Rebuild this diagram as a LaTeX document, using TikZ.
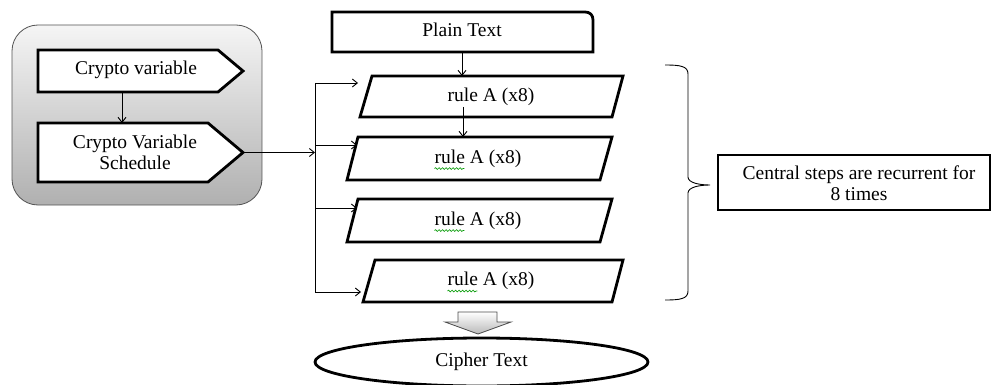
\documentclass[tikz,border=0pt]{standalone}
\usepackage{fontspec}
\setmainfont{Liberation Serif}
\usetikzlibrary{arrows.meta,shapes.geometric,decorations.pathmorphing}
\begin{document}
\begin{tikzpicture}[x=1pt,y=-1pt,
  every node/.style={font=\fontsize{19.5}{21}\selectfont, align=center, inner sep=0pt},
  thickbox/.style={draw=black, line width=2.8pt, fill=white, line join=miter},
  conn/.style={draw=black, line width=0.9pt},
  arr/.style={conn, -{Straight Barb[length=5pt,width=8pt]}},
  wavy/.style={draw=green!60!black, line width=0.6pt, decorate, decoration={snake, amplitude=0.9pt, segment length=3.5pt}},
  greyarrow/.style={draw=gray!60!black, line width=0.8pt, top color=white, bottom color=gray!55}
]
\useasboundingbox (0,0) rectangle (992,385);
\clip (0,0) rectangle (992,385);

% grey container
\path[draw=gray!65!black, line width=0.8pt, top color=gray!8, bottom color=gray!62, rounded corners=26pt]
  (12,25) rectangle (262,205);

% crypto variable shapes
\draw[thickbox] (38,50) -- (218,50) -- (243,71) -- (218,92) -- (38,92) -- cycle;
\node (cv) at (136,70) {Crypto variable};
\draw[thickbox] (38,123) -- (208,123) -- (243,152.5) -- (208,182) -- (38,182) -- cycle;
\node (cvs) at (135,152) {Crypto Variable\\Schedule};
\coordinate (cvB) at (122,92);
\coordinate (cvsT) at (122,123);
\coordinate (cvsTip) at (243,152.5);
\draw[arr] (cvB) -- (cvsT);

% plain text
\draw[thickbox] (332,52) -- (332,12) -- (585,12) .. controls (590,12) and (593,15) .. (593,20) -- (593,52) -- cycle;
\node (pt) at (462,30) {Plain Text};
\coordinate (ptB) at (462,52);

% rule boxes
\draw[thickbox] (372,76) -- (623,76) -- (612,117) -- (360,117) -- cycle;
\node (r1) at (491,96.5) {rule A (x8)};
\draw[thickbox] (358,137) -- (612,137) -- (600,180) -- (347,180) -- cycle;
\node (r2) at (478,158.5) {rule A (x8)};
\draw[thickbox] (358,199) -- (612,199) -- (600,242) -- (347,242) -- cycle;
\node (r3) at (478,220.5) {rule A (x8)};
\draw[thickbox] (375,260) -- (623,260) -- (612,302) -- (363,302) -- cycle;
\node (r4) at (491,281) {rule A (x8)};

\coordinate (r1T) at (462,76);
\coordinate (r1B) at (463,107);
\coordinate (r2T) at (463,137);
\draw[arr] (ptB) -- (r1T);
\draw[arr] (r1B) -- (r2T);

% spell-check squiggles
\draw[wavy] ([yshift=-1pt]r2.south west) -- ++(30,0);
\draw[wavy] ([yshift=-1pt]r3.south west) -- ++(30,0);
\draw[wavy] ([yshift=-1pt]r4.south west) -- ++(30,0);

% bus
\coordinate (b1) at (315,83);
\coordinate (b2) at (315,145);
\coordinate (bin) at (315,152.5);
\coordinate (b3) at (315,208);
\coordinate (b4) at (315,292);
\coordinate (e1) at (358,83);
\coordinate (e2) at (357,145);
\coordinate (e3) at (357,208);
\coordinate (e4) at (361,292);
\draw[conn] (b1) -- (b4);
\draw[arr] (cvsTip) -- (bin);
\draw[arr] (b1) -- (e1);
\draw[arr] (b2) -- (e2);
\draw[arr] (b3) -- (e3);
\draw[arr] (b4) -- (e4);

% grey block arrow
\path[greyarrow] (458,312) -- (497,312) -- (497,322) -- (511,322) -- (478,334) -- (445,322) -- (458,322) -- cycle;

% cipher text
\node[ellipse, draw=black, line width=2.8pt, fill=white, minimum width=333pt, minimum height=48pt] (ct) at (481.5,362) {Cipher Text};

% brace
\draw[conn] (665,65) .. controls (680,65) and (688,66) .. (688,74) -- (688,177)
  .. controls (688,183) and (700,185) .. (710,185)
  .. controls (700,185) and (688,187) .. (688,193) -- (688,291)
  .. controls (688,299) and (680,300) .. (665,300);

% callout
\node[thickbox, minimum width=272pt, minimum height=55pt] (cs) at (854,182.5) {};
\node (cst) at (859,183) {Central steps are recurrent for\\8 times};
\end{tikzpicture}
\end{document}
